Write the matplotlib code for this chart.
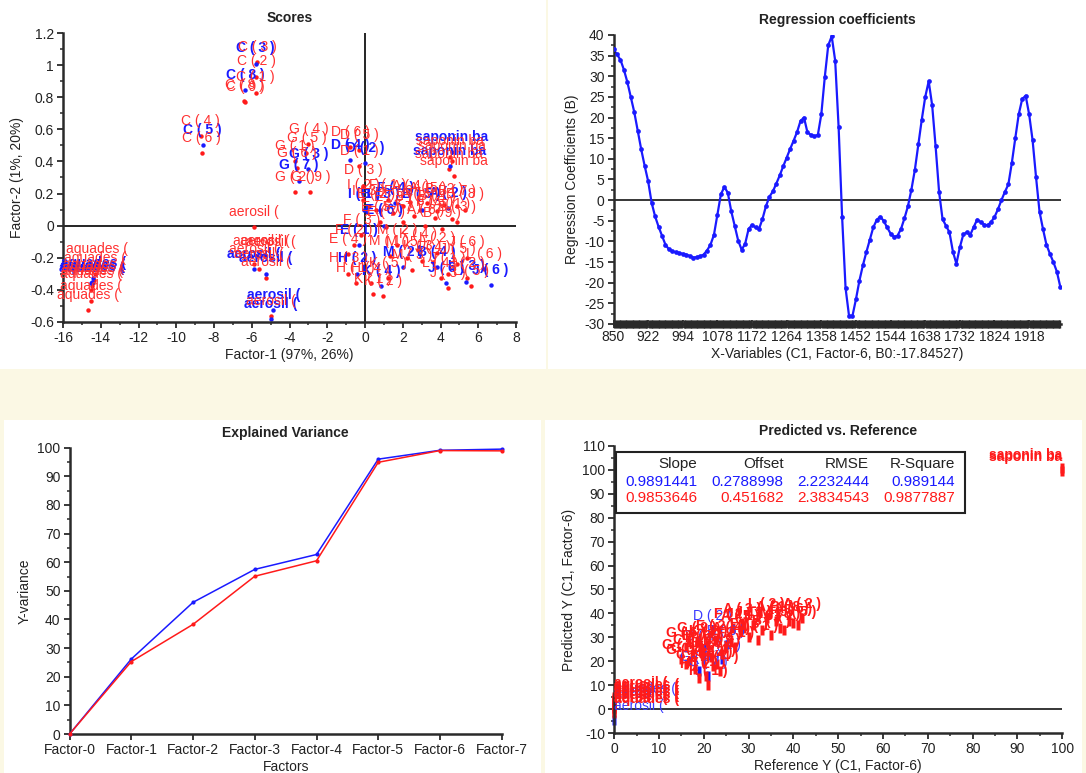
import numpy as np
import matplotlib
matplotlib.use('Agg')
import matplotlib.pyplot as plt
from matplotlib.patches import Rectangle
from matplotlib.ticker import MultipleLocator, FuncFormatter

plt.rcParams['font.family'] = ['Liberation Sans', 'DejaVu Sans']
plt.rcParams['axes.unicode_minus'] = False

W, H = 1086, 773
BLUE = '#1a1aff'
RED = '#ff1a1a'
TXT = '#222222'

# ---------------- Scores data ----------------
score_blue_labels = ["C ( 3 )", "C ( 8 )", "C ( 5 )", "G ( 7 )", "G ( 3 )", "D ( 4 )", "D ( 2 )",
                     "saponin ba", "saponin ba",
                     "aerosil (", "aerosil (", "aerosil (", "aerosil (",
                     "aquades (", "aquades (", "aquades (",
                     "I ( 1 )", "H ( 3 )", "F ( 4 )", "B ( 5 )", "A ( 2 )", "E ( 6 )", "E ( 1 )",
                     "M ( 2 )", "J ( 6 )", "J ( 6 )", "H ( 2 )", "K ( 4 )", "L ( 3 )", "B ( 4 )"]
score_blue_x = [-5.8, -6.35, -8.6, -3.5, -3.0, -0.8, 0.0,
                4.6, 4.5,
                -5.9, -5.25, -4.85, -5.0,
                -14.4, -14.45, -14.5,
                -0.05, 0.8, 1.6, 3.0, 4.4, 1.0, -0.3,
                2.0, 4.3, 6.65, -0.4, 0.85, 5.35, 3.8]
score_blue_y = [1.01, 0.845, 0.50, 0.28, 0.35, 0.41, 0.39,
                0.46, 0.37,
                -0.27, -0.30, -0.53, -0.585,
                -0.33, -0.35, -0.36,
                0.10, 0.10, 0.14, 0.10, 0.11, 0.0, -0.12,
                -0.26, -0.36, -0.37, -0.30, -0.38, -0.35, -0.26]

score_red_labels = ["C ( 3 )", "C ( 2 )", "C ( 1 )", "C ( 8 )", "C ( 9 )", "C ( 4 )", "C ( 6 )",
                    "G ( 4 )", "G ( 5 )", "G ( 1 )", "G ( 6 )", "G ( 2 )", "G ( 9 )",
                    "D ( 6 )", "D ( 5 )", "D ( 1 )", "D ( 3 )",
                    "saponin ba", "saponin ba", "saponin ba", "saponin ba",
                    "aerosil (", "aerosil (", "aerosil (", "aerosil (", "aerosil (", "aerosil (", "aerosil (", "aerosil (",
                    "aquades (", "aquades (", "aquades (", "aquades (", "aquades (", "aquades (", "aquades (", "aquades (",
                    "I ( 2 )", "F ( 1 )", "A ( 4 )", "A ( 5 )", "B ( 2 )", "B ( 7 )", "E ( 3 )", "E ( 8 )",
                    "F ( 5 )", "A ( 1 )", "B ( 9 )", "E ( 7 )", "F ( 3 )", "F ( 2 )", "E ( 4 )", "M ( 1 )",
                    "M ( 5 )", "K ( 3 )", "J ( 4 )", "J ( 5 )", "L ( 6 )", "M ( 3 )", "J ( 1 )", "J ( 2 )",
                    "H ( 1 )", "H ( 4 )", "K ( 1 )", "K ( 2 )", "L ( 5 )", "J ( 3 )",
                    "I ( 3 )", "E ( 2 )", "F ( 6 )", "A ( 3 )", "B ( 1 )", "B ( 8 )", "E ( 5 )", "F ( 7 )",
                    "A ( 6 )", "B ( 3 )", "M ( 2 )", "K ( 4 )", "J ( 6 )", "L ( 2 )", "H ( 3 )", "K ( 5 )",
                    "L ( 4 )"]
score_red_x = [-5.7, -5.75, -5.8, -6.4, -6.35, -8.7, -8.65,
               -3.0, -3.1, -3.7, -3.6, -3.7, -2.9,
               -0.8, -0.3, -0.3, -0.1,
               4.5, 4.6, 4.45, 4.7,
               -5.9, -5.3, -5.7, -5.0, -5.9, -5.6, -5.25, -5.0,
               -14.2, -14.3, -14.35, -14.4, -14.45, -14.5, -14.5, -14.7,
               -0.1, 1.2, 2.4, 3.3, 4.2, 4.9, 1.5, 2.6,
               3.7, 4.6, 4.1, 1.1, -0.2, -0.6, -0.9, 1.3,
               2.2, 3.0, 3.6, 4.9, 6.3, 2.5, 4.4, 5.4,
               -0.5, 0.3, 0.4, 0.95, 5.6, 4.4,
               0.2, 0.6, 2.0, 2.9, 3.8, 5.3, 0.8, 2.0,
               3.2, 4.9, 1.7, 2.8, 5.4, 3.8, -0.9, 1.2,
               4.0]
score_red_y = [1.02, 0.93, 0.83, 0.78, 0.77, 0.56, 0.45,
               0.51, 0.45, 0.40, 0.36, 0.21, 0.21,
               0.49, 0.47, 0.37, 0.25,
               0.43, 0.40, 0.35, 0.31,
               -0.01, -0.19, -0.19, -0.20, -0.24, -0.27, -0.325, -0.565,
               -0.24, -0.30, -0.34, -0.36, -0.38, -0.40, -0.47, -0.53,
               0.16, 0.16, 0.15, 0.14, 0.13, 0.12, 0.08, 0.06,
               0.05, 0.04, -0.02, -0.01, -0.06, -0.12, -0.18, -0.19,
               -0.20, -0.22, -0.23, -0.24, -0.27, -0.28, -0.30, -0.33,
               -0.36, -0.36, -0.43, -0.44, -0.38, -0.39,
               0.12, 0.10, 0.12, 0.10, 0.09, 0.10, 0.02, 0.02,
               0.0, 0.02, -0.12, -0.15, -0.20, -0.17, -0.30, -0.33,
               -0.33]

# ---------------- Regression coefficients ----------------
reg_tick_labels = ["850", "922", "994", "1078", "1172", "1264", "1358", "1452",
                   "1544", "1638", "1732", "1824", "1918"]
reg_coef = [36.5, 35.3, 34.0, 31.6, 28.6, 25.0, 21.3, 16.8, 12.3, 8.3,
            4.6, -0.6, -3.9, -6.4, -8.6, -10.8, -11.9, -12.4, -12.6, -12.8,
            -13.0, -13.2, -13.5, -13.9, -13.8, -13.6, -13.2, -12.2, -10.8, -8.4,
            -3.5, 1.4, 3.2, 1.8, -2.7, -6.2, -9.8, -12.0, -10.6, -7.0,
            -6.0, -6.6, -7.0, -4.6, -1.5, 0.8, 2.1, 4.0, 6.0, 8.2,
            10.3, 12.4, 14.4, 16.5, 19.2, 20.0, 16.4, 15.8, 15.5, 15.8,
            20.8, 29.8, 37.5, 39.7, 33.8, 17.6, -4.0, -21.3, -28.0, -28.0,
            -24.0, -19.5, -15.8, -12.6, -9.6, -6.6, -4.8, -4.0, -5.0, -6.6,
            -8.1, -8.9, -8.6, -7.0, -4.4, -1.5, 2.5, 7.3, 13.5, 19.5,
            25.0, 28.8, 23.0, 13.0, 2.0, -4.6, -6.2, -7.8, -12.5, -15.4,
            -11.4, -8.3, -7.8, -8.4, -6.5, -4.7, -5.3, -5.9, -6.1, -5.3,
            -4.1, -2.2, 0.0, 2.0, 3.8, 9.0, 15.0, 20.8, 24.5, 25.3,
            20.8, 14.5, 5.5, -2.8, -7.0, -10.8, -13.0, -15.0, -17.3, -21.0]
reg_points_per_label = 10

# ---------------- Explained variance ----------------
factors = ["Factor-0", "Factor-1", "Factor-2", "Factor-3", "Factor-4", "Factor-5", "Factor-6", "Factor-7"]
var_cal = [0, 26.2, 46.0, 57.5, 62.7, 96.0, 99.1, 99.5]
var_val = [0, 25.3, 38.3, 55.1, 60.5, 94.9, 99.0, 98.9]

# ---------------- Predicted vs reference ----------------
pv_red_labels = ["aquades (", "aquades (", "aquades (", "aquades (", "aquades (",
                 "aerosil (", "aerosil (", "aerosil (", "aerosil (", "aerosil (",
                 "G ( 4 )", "G ( 1 )", "G ( 5 )", "C ( 6 )", "H ( 2 )", "B ( 3 )", "G ( 2 )", "H ( 1 )",
                 "K ( 1 )", "B ( 5 )", "C ( 2 )", "E ( 4 )", "F ( 3 )", "I ( 2 )",
                 "A ( 4 )", "F ( 1 )", "A ( 5 )", "J ( 4 )", "E ( 3 )", "M ( 1 )", "L ( 6 )", "B ( 7 )",
                 "A ( 1 )", "J ( 2 )", "A ( 6 )", "J ( 5 )",
                 "G ( 6 )", "C ( 4 )", "G ( 9 )", "H ( 3 )", "K ( 2 )", "E ( 2 )", "H ( 4 )", "F ( 2 )",
                 "A ( 3 )", "J ( 1 )", "L ( 2 )", "M ( 3 )", "B ( 8 )", "A ( 2 )",
                 "saponin ba", "saponin ba"]
pv_red_ref = [0, 0, 0, 0, 0,
              0, 0, 0, 0, 0,
              15, 16, 17, 18, 19, 19.5, 20, 20.5,
              21, 21.5, 22, 23, 24, 25,
              26, 27, 28, 29, 30, 32, 33, 35,
              36, 38, 40, 41,
              16, 17.5, 18.5, 20, 21, 22.5, 23.5, 26.5,
              28.5, 31, 34, 37, 39, 42,
              100, 100]
pv_red_pred = [-1.5, 0.0, 1.5, 3.0, 4.5,
               -1.0, 0.5, 2.0, 3.5, 5.0,
               21, 19, 20, 17, 13, 25, 20, 14,
               10, 22, 18, 19, 23, 26,
               28, 26, 33, 34, 30, 29, 33, 31,
               37, 33, 36, 35,
               26, 23, 28, 24, 27, 29, 16, 34,
               36, 35, 38, 34, 37, 38,
               100.5, 99.5]
pv_blue_labels = ["aerosil (", "aerosil (", "aquades (", "G ( 3 )", "B ( 4 )", "G ( 7 )", "D ( 2 )", "E ( 1 )", "B ( 6 )"]
pv_blue_ref = [0, 0, 0, 19, 20, 21, 22, 24, 25]
pv_blue_pred = [-4.5, 1.0, 2.5, 16, 25, 14, 33, 21, 27]

stats_headers = ["Slope", "Offset", "RMSE", "R-Square"]
stats_blue = ["0.9891441", "0.2788998", "2.2232444", "0.989144"]
stats_red = ["0.9853646", "0.451682", "2.3834543", "0.9877887"]

# ======================================================================
fig = plt.figure(figsize=(W / 100, H / 100), dpi=100)
fig.patch.set_facecolor('#fbf8e4')

for (x0, y0, x1, y1) in [(0, 0, 546, 369), (548, 0, 1086, 369), (4, 420, 541, 773), (545, 420, 1082, 773)]:
    fig.add_artist(Rectangle((x0 / W, 1 - y1 / H), (x1 - x0) / W, (y1 - y0) / H,
                             transform=fig.transFigure, facecolor='white', edgecolor='none', zorder=0))


def px_axes(l, t, r, b):
    return fig.add_axes([l / W, 1 - b / H, (r - l) / W, (b - t) / H])


def style(ax, title, xlabel, ylabel):
    for s in ['top', 'right']:
        ax.spines[s].set_visible(False)
    for s in ['left', 'bottom']:
        ax.spines[s].set_color('#2a2a2a')
        ax.spines[s].set_linewidth(1.8)
    ax.set_facecolor('none')
    ax.tick_params(which='major', direction='out', length=4, width=1.3, colors='#2a2a2a',
                   labelsize=10, labelcolor=TXT, pad=2.5)
    ax.tick_params(which='minor', direction='out', length=2.5, width=1.1, colors='#2a2a2a')
    ax.set_title(title, fontsize=10, fontweight='bold', color=TXT, pad=8)
    ax.set_xlabel(xlabel, fontsize=10, color=TXT, labelpad=2)
    ax.set_ylabel(ylabel, fontsize=10, color=TXT, labelpad=4)


fmt = FuncFormatter(lambda v, p: '{:g}'.format(round(v, 6)))


def label_points(ax, labels, xs, ys, color, weight, xlim, dy=11, fs=10):
    span = xlim[1] - xlim[0]
    for lab, x, y in zip(labels, xs, ys):
        ha = 'center'
        if x < xlim[0] + 0.05 * span:
            ha = 'left'
        elif x > xlim[1] - 0.05 * span:
            ha = 'right'
        ax.annotate(lab, (x, y), xytext=(0, dy), textcoords='offset points', ha=ha, va='center',
                    fontsize=fs, color=color, fontweight=weight, zorder=3)


# ---------------- Panel 1: Scores ----------------
ax1 = px_axes(63, 33.3, 516, 321.7)
style(ax1, 'Scores', 'Factor-1 (97%, 26%)', 'Factor-2 (1%, 20%)')
ax1.set_xlim(-16, 8)
ax1.set_ylim(-0.6, 1.2)
ax1.xaxis.set_major_locator(MultipleLocator(2))
ax1.xaxis.set_minor_locator(MultipleLocator(1))
ax1.yaxis.set_major_locator(MultipleLocator(0.2))
ax1.yaxis.set_minor_locator(MultipleLocator(0.1))
ax1.xaxis.set_major_formatter(fmt)
ax1.yaxis.set_major_formatter(fmt)
ax1.axhline(0, color='black', lw=1.2, zorder=1)
ax1.axvline(0, color='black', lw=1.2, zorder=1)
ax1.plot(score_red_x, score_red_y, 'o', color=RED, ms=3.2, mec='none', zorder=2)
ax1.plot(score_blue_x, score_blue_y, 'o', color=BLUE, ms=3.2, mec='none', zorder=2)
label_points(ax1, score_blue_labels, score_blue_x, score_blue_y, BLUE, 'bold', (-16, 8))
label_points(ax1, score_red_labels, score_red_x, score_red_y, '#ff3030', 'normal', (-16, 8))

# ---------------- Panel 2: Regression coefficients ----------------
ax2 = px_axes(613.5, 35, 1061, 324)
style(ax2, 'Regression coefficients', 'X-Variables (C1, Factor-6, B0:-17.84527)', 'Regression Coefficients (B)')
reg_x = np.arange(len(reg_coef)) / reg_points_per_label
ax2.set_xlim(0, 12.92)
ax2.set_ylim(-30, 40)
ax2.set_xticks(np.arange(len(reg_tick_labels)))
ax2.set_xticklabels(reg_tick_labels)
ax2.set_xticks(np.arange(0, 12.92, 0.025), minor=True)
ax2.tick_params(axis='x', which='minor', direction='inout', length=6, width=1.0)
ax2.tick_params(axis='x', which='major', direction='inout', length=6, pad=1.5)
ax2.yaxis.set_major_locator(MultipleLocator(5))
ax2.yaxis.set_minor_locator(MultipleLocator(2.5))
ax2.axhline(0, color='black', lw=1.1, zorder=1)
ax2.plot(reg_x, reg_coef, '-', color=BLUE, lw=1.6, zorder=2)
ax2.plot(reg_x, reg_coef, 'o', color=BLUE, ms=3.4, mec='none', zorder=3)

# ---------------- Panel 3: Explained variance ----------------
ax3 = px_axes(69.6, 447.7, 501.7, 734)
style(ax3, 'Explained Variance', 'Factors', 'Y-variance')
ax3.set_xlim(0, len(factors) - 1)
ax3.set_ylim(0, 100)
ax3.set_xticks(np.arange(len(factors)))
ax3.set_xticklabels(factors)
ax3.yaxis.set_major_locator(MultipleLocator(10))
ax3.yaxis.set_minor_locator(MultipleLocator(5))
ax3.plot(np.arange(len(factors)), var_cal, '-o', color=BLUE, lw=1.1, ms=3, mec='none', clip_on=False, zorder=3)
ax3.plot(np.arange(len(factors)), var_val, '-o', color=RED, lw=1.1, ms=3, mec='none', clip_on=False, zorder=3)

# ---------------- Panel 4: Predicted vs reference ----------------
ax4 = px_axes(614.2, 445.7, 1062.3, 733.3)
style(ax4, 'Predicted vs. Reference', 'Reference Y (C1, Factor-6)', 'Predicted Y (C1, Factor-6)')
ax4.set_xlim(0, 100)
ax4.set_ylim(-10, 110)
ax4.xaxis.set_major_locator(MultipleLocator(10))
ax4.xaxis.set_minor_locator(MultipleLocator(5))
ax4.yaxis.set_major_locator(MultipleLocator(10))
ax4.yaxis.set_minor_locator(MultipleLocator(5))
ax4.axhline(0, color='black', lw=1.1, zorder=1)
bar_marker = [(-1, -2.6), (1, -2.6), (1, 2.6), (-1, 2.6), (-1, -2.6)]
ax4.plot(pv_blue_ref, pv_blue_pred, linestyle='none', marker=bar_marker, color=BLUE, ms=7, mec='none', zorder=2, clip_on=False)
label_points(ax4, pv_blue_labels, pv_blue_ref, pv_blue_pred, '#3a3aff', 'normal', (0, 100), dy=10)
ax4.plot(pv_red_ref, pv_red_pred, linestyle='none', marker=bar_marker, color=RED, ms=7, mec='none', zorder=2, clip_on=False)
label_points(ax4, pv_red_labels, pv_red_ref, pv_red_pred, RED, 'bold', (0, 100), dy=10)

# statistics box
ax4.add_patch(Rectangle((0.003, 0.767), 0.779, 0.212, transform=ax4.transAxes,
                        facecolor='white', edgecolor='#222222', lw=1.5, zorder=5))
col_x = [0.186, 0.378, 0.569, 0.761]
for cx, hdr, sb, sr in zip(col_x, stats_headers, stats_blue, stats_red):
    ax4.text(cx, 0.936, hdr, transform=ax4.transAxes, ha='right', va='center', fontsize=11, color=TXT, zorder=6)
    ax4.text(cx, 0.875, sb, transform=ax4.transAxes, ha='right', va='center', fontsize=11, color=BLUE, zorder=6)
    ax4.text(cx, 0.819, sr, transform=ax4.transAxes, ha='right', va='center', fontsize=11, color=RED, zorder=6)

fig.savefig('out.png', dpi=100, facecolor=fig.get_facecolor())
